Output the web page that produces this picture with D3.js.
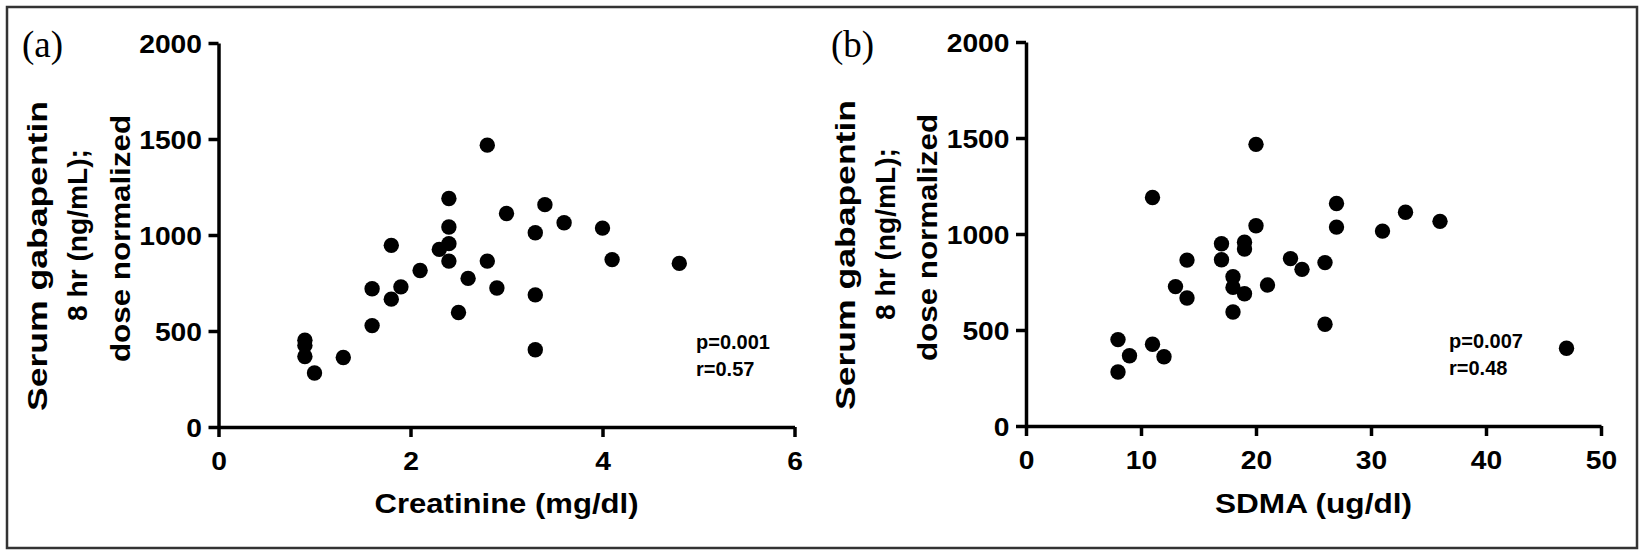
<!DOCTYPE html>
<html>
<head>
<meta charset="utf-8">
<script src="https://cdn.jsdelivr.net/npm/d3@7/dist/d3.min.js"></script>
<style>
  html, body { margin: 0; padding: 0; background: #fff; }
  svg { display: block; }
  text { font-family: "Liberation Sans", Arial, Helvetica, sans-serif; font-weight: bold; fill: #000; }
</style>
</head>
<body>
<svg id="chart" width="1644" height="555"></svg>
<script>
// ---- Data ----
const creatinine = [2.8, 2.4, 3.0, 3.4, 3.6, 4.0, 4.1, 3.3, 2.4, 2.4, 2.3, 2.4, 2.8, 1.8, 2.1, 2.6, 2.9, 1.6, 1.9, 1.8, 3.3, 2.5, 1.6, 0.9, 0.9, 0.9, 1.3, 1.0, 3.3, 4.8];
const gabapentinA = [1468, 1190, 1112, 1158, 1064, 1036, 872, 1012, 1042, 955, 925, 864, 864, 946, 815, 774, 724, 720, 730, 666, 688, 596, 528, 452, 425, 367, 362, 281, 402, 852];
const sdma = [20, 11, 27, 33, 36, 31, 27, 20, 17, 19, 19, 17, 14, 23, 24, 26, 18, 18, 13, 19, 21, 14, 18, 26, 8, 11, 9, 12, 8, 47];
const gabapentinB = [1467, 1190, 1159, 1113, 1066, 1015, 1036, 1043, 949, 957, 922, 866, 864, 872, 816, 851, 777, 722, 726, 689, 734, 667, 594, 530, 450, 426, 366, 361, 281, 405];
const yTicks = [0, 500, 1000, 1500, 2000];
const xTicksA = [0, 2, 4, 6];
const xTicksB = [0, 10, 20, 30, 40, 50];
const yLabelLines = ["Serum gabapentin", "8 hr (ng/mL);", "dose normalized"];
const panels = [
  { tag: "(a)", xLabel: "Creatinine (mg/dl)", xs: creatinine, ys: gabapentinA, xDomain: [0, 6], xTicks: xTicksA, stats: ["p=0.001", "r=0.57"] },
  { tag: "(b)", xLabel: "SDMA (ug/dl)", xs: sdma, ys: gabapentinB, xDomain: [0, 50], xTicks: xTicksB, stats: ["p=0.007", "r=0.48"] }
];

// ---- Layout ----
const layout = [
  { x0: 218.5, x1: 794.5, y0: 427, y1: 43, tagX: 22, statX: 696, xLabelW: 264 },
  { x0: 1026, x1: 1601, y0: 426, y1: 42, tagX: 831, statX: 1449, xLabelW: 197 }
];
const yLabelLens = [310, 172, 247];
const yLabelOff = [-171.5, -131.5, -89];
const yLabelShift = [21, 0, 3.5];
const tickScale = 1.13;

const svg = d3.select("#chart");

// outer border
svg.append("rect")
  .attr("x", 7).attr("y", 7).attr("width", 1630).attr("height", 541)
  .attr("fill", "none").attr("stroke", "#333").attr("stroke-width", 2.5);

panels.forEach((p, i) => {
  const L = layout[i];
  const x = d3.scaleLinear().domain(p.xDomain).range([L.x0, L.x1]);
  const y = d3.scaleLinear().domain([0, 2000]).range([L.y0, L.y1]);
  const g = svg.append("g");

  // y axis
  const ya = g.append("g").attr("transform", `translate(${L.x0},0)`)
    .call(d3.axisLeft(y).tickValues(yTicks).tickFormat(d3.format("d")).tickSize(10).tickSizeOuter(0));
  // x axis
  const xa = g.append("g").attr("transform", `translate(0,${L.y0})`)
    .call(d3.axisBottom(x).tickValues(p.xTicks).tickFormat(d3.format("d")).tickSize(10).tickSizeOuter(0));

  [ya, xa].forEach(a => {
    a.selectAll("path.domain").attr("stroke", "#000").attr("stroke-width", 3.5);
    a.selectAll(".tick line").attr("stroke", "#000").attr("stroke-width", 3.5);
    a.selectAll("text").style("font-size", "25px").style("font-family", "'Liberation Sans', Arial, sans-serif").style("font-weight", "bold").attr("fill", "#000");
  });
  ya.selectAll("text").attr("x", -16.5 / tickScale).attr("dy", "0.38em").attr("transform", `scale(${tickScale},1)`);
  xa.selectAll("text").attr("y", 43.5).attr("dy", 0).attr("transform", `scale(${tickScale},1)`);

  // points
  g.append("g").selectAll("circle")
    .data(p.xs.map((v, k) => [v, p.ys[k]]))
    .join("circle")
    .attr("cx", d => x(d[0]))
    .attr("cy", d => y(d[1]))
    .attr("r", 7.7)
    .attr("fill", "#000");

  // x label
  g.append("text")
    .attr("x", (L.x0 + L.x1) / 2).attr("y", 513)
    .attr("text-anchor", "middle")
    .attr("textLength", L.xLabelW).attr("lengthAdjust", "spacingAndGlyphs")
    .style("font-size", "27px")
    .text(p.xLabel);

  // y label (three rotated lines)
  const cy = (L.y0 + L.y1) / 2;
  yLabelLines.forEach((t, k) => {
    g.append("text")
      .attr("transform", `translate(${L.x0 + yLabelOff[k]},${cy + yLabelShift[k]}) rotate(-90)`)
      .attr("text-anchor", "middle")
      .attr("textLength", yLabelLens[k]).attr("lengthAdjust", "spacingAndGlyphs")
      .style("font-size", "28px")
      .text(t);
  });

  // panel tag
  g.append("text")
    .attr("x", L.tagX).attr("y", 57)
    .style("font-family", "'Liberation Serif', 'Times New Roman', serif")
    .style("font-weight", "normal")
    .style("font-size", "37px")
    .text(p.tag);

  // stats
  p.stats.forEach((s, k) => {
    g.append("text")
      .attr("x", L.statX).attr("y", 349 + k * 27 - i)
      .style("font-size", "20px")
      .text(s);
  });
});
</script>
</body>
</html>
